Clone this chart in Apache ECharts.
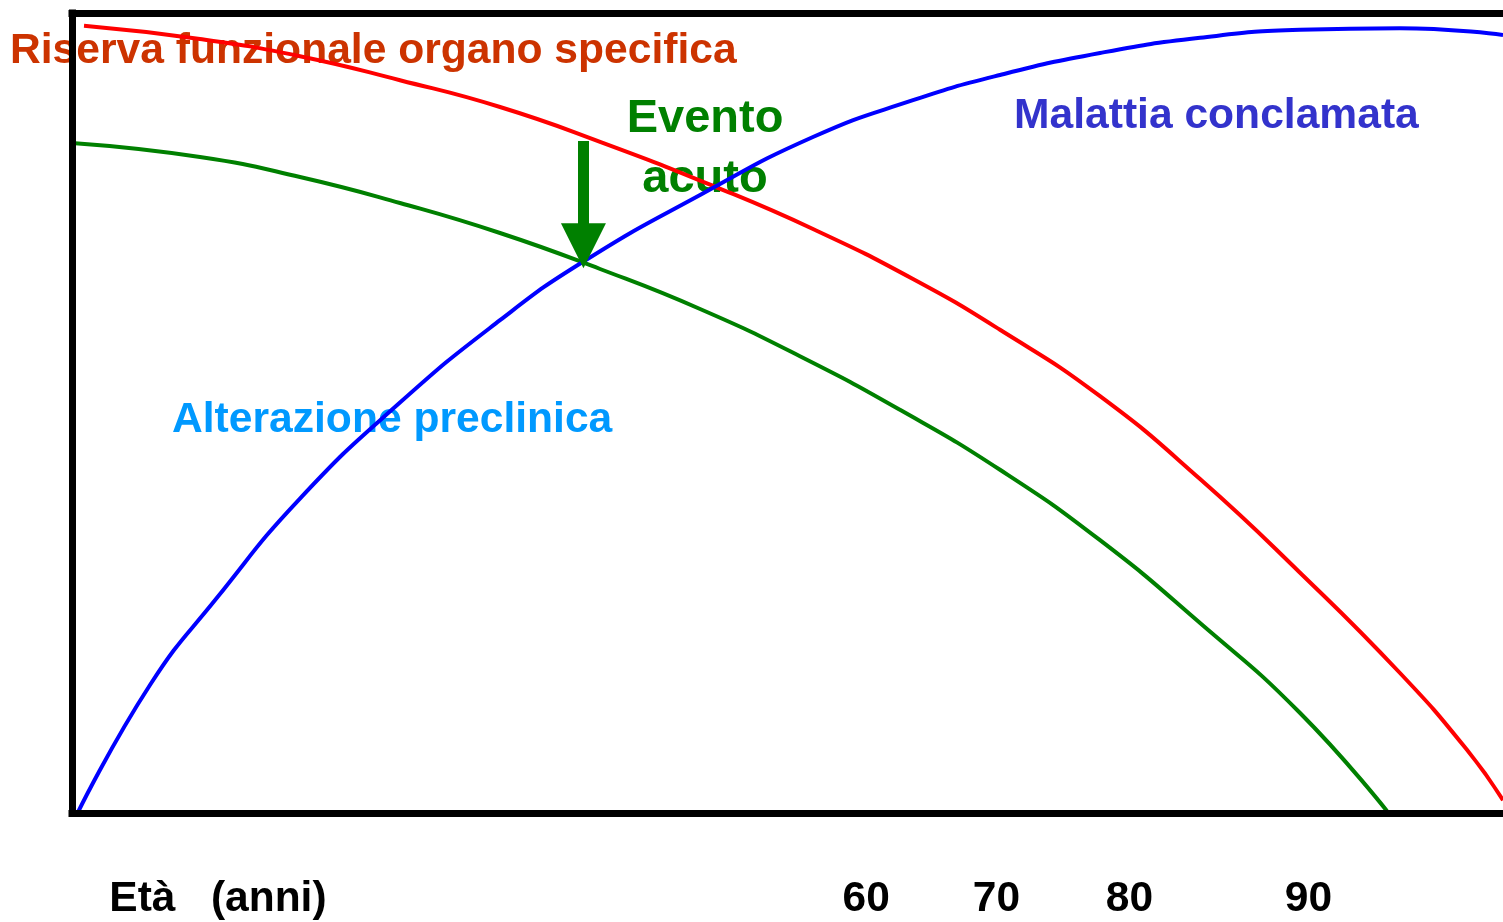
<!DOCTYPE html>
<html>
<head>
<meta charset="utf-8">
<script src="https://cdn.jsdelivr.net/npm/echarts@6/dist/echarts.min.js"></script>
<style>
html,body{margin:0;padding:0;background:#fff;}
#chart{width:1503px;height:922px;}
</style>
</head>
<body>
<div id="chart"></div>
<script>
// ---- data (x: position along the age axis 0..100, y: level 0..100) ----
const riservaX = [0.84, 8.94, 15.93, 22.92, 29.91, 36.90, 44.79, 51.78, 58.77, 64.85, 71.84, 78.83, 85.78, 92.80, 97.48, 100];
const riservaY = [98.4, 96.75, 94.6, 91.6, 88.25, 83.9, 78.4, 73.0, 66.75, 60.4, 52.1, 41.75, 30.1, 17.5, 7.9, 1.6];

const eventoX = [0, 8.94, 15.93, 22.92, 29.91, 36.90, 43.89, 50.87, 57.86, 64.85, 71.84, 78.83, 85.82, 91.89];
const eventoY = [83.75, 82.0, 79.5, 76.25, 72.5, 68.0, 63.0, 57.1, 50.4, 42.9, 34.1, 23.75, 12.5, 0.25];

const malattiaX = [0.42, 5.45, 10.13, 15.93, 22.92, 29.91, 35.71, 43.89, 51.78, 58.77, 64.85, 71.84, 78.83, 85.82, 92.80, 100];
const malattiaY = [0.1, 16.0, 26.9, 39.3, 51.3, 61.6, 68.9, 77.25, 84.5, 89.1, 92.25, 95.0, 96.9, 97.9, 98.1, 97.25];

// arrow "Evento acuto" (from -> to, data coords)
const arrowFrom = [35.74, 84.0];
const arrowTo = [35.74, 70.9];

// bottom labels
const tickLabels = ['Età   (anni)', '60', '70', '80', '90'];
const tickPos = [10.2, 55.5, 64.6, 73.9, 86.4];

// annotation texts
const labelRiserva = 'Riserva funzionale organo specifica';
const labelEvento = 'Evento\nacuto';
const labelMalattia = 'Malattia conclamata';
const labelAlterazione = 'Alterazione preclinica';

function zip(xs, ys) { return xs.map((x, i) => [x, ys[i]]); }

const FONT = '"Liberation Sans", Arial, sans-serif';
const chart = echarts.init(document.getElementById('chart'), null, {renderer: 'canvas'});

const frameLine = {show: true, lineStyle: {color: '#000', width: 7, cap: 'square'}};
const SMOOTH = 0.5;

chart.setOption({
  animation: false,
  backgroundColor: '#fff',
  grid: {left: 72, right: 0, top: 13, bottom: 109, containLabel: false},
  xAxis: [{
    type: 'value', min: 0, max: 100, position: 'bottom', z: 10,
    axisLine: frameLine,
    axisTick: {show: false},
    splitLine: {show: false},
    axisLabel: {
      show: true,
      customValues: tickPos,
      formatter: function (v) {
        const i = tickPos.findIndex(p => Math.abs(p - v) < 1e-6);
        return i >= 0 ? tickLabels[i] : '';
      },
      margin: 86,
      verticalAlign: 'middle',
      fontSize: 42.5, fontWeight: 'bold', fontFamily: FONT, color: '#000'
    }
  }, {
    type: 'value', min: 0, max: 100, position: 'top', z: 10,
    axisLine: frameLine,
    axisTick: {show: false}, axisLabel: {show: false}, splitLine: {show: false}
  }],
  yAxis: {
    type: 'value', min: 0, max: 100, z: 10,
    axisLine: frameLine,
    axisTick: {show: false}, axisLabel: {show: false}, splitLine: {show: false}
  },
  graphic: [
    {type: 'text', x: 10, y: 51, z: 1,
     style: {text: labelRiserva, fill: '#CC3300', font: 'bold 42.6px ' + FONT, align: 'left', verticalAlign: 'middle', textAlign: 'left', textVerticalAlign: 'middle'}},
    {type: 'text', x: 705, y: 149, z: 1,
     style: {text: labelEvento, fill: '#008000', font: 'bold 47px ' + FONT, lineHeight: 60, align: 'center', verticalAlign: 'middle', textAlign: 'center', textVerticalAlign: 'middle'}},
    {type: 'text', x: 1014, y: 116, z: 1,
     style: {text: labelMalattia, fill: '#3333CC', font: 'bold 42.6px ' + FONT, align: 'left', verticalAlign: 'middle', textAlign: 'left', textVerticalAlign: 'middle'}},
    {type: 'text', x: 172, y: 420, z: 1,
     style: {text: labelAlterazione, fill: '#0099FF', font: 'bold 42.6px ' + FONT, align: 'left', verticalAlign: 'middle', textAlign: 'left', textVerticalAlign: 'middle'}}
  ],
  series: [
    {
      name: 'Riserva funzionale', type: 'line', data: zip(riservaX, riservaY),
      smooth: SMOOTH, showSymbol: false, lineStyle: {color: '#FF0000', width: 4}, z: 3
    },
    {
      name: 'Evento acuto', type: 'line', data: zip(eventoX, eventoY),
      smooth: SMOOTH, showSymbol: false, lineStyle: {color: '#008000', width: 4}, z: 3,
      markLine: {
        silent: true, animation: false,
        symbol: ['none', 'triangle'], symbolSize: [45, 45],
        label: {show: false},
        lineStyle: {color: '#008000', width: 11, type: 'solid'},
        itemStyle: {color: '#008000'},
        data: [[{coord: arrowFrom}, {coord: arrowTo}]]
      }
    },
    {
      name: 'Malattia', type: 'line', data: zip(malattiaX, malattiaY),
      smooth: SMOOTH, showSymbol: false, lineStyle: {color: '#0000FF', width: 4}, z: 3
    }
  ]
});
</script>
</body>
</html>
